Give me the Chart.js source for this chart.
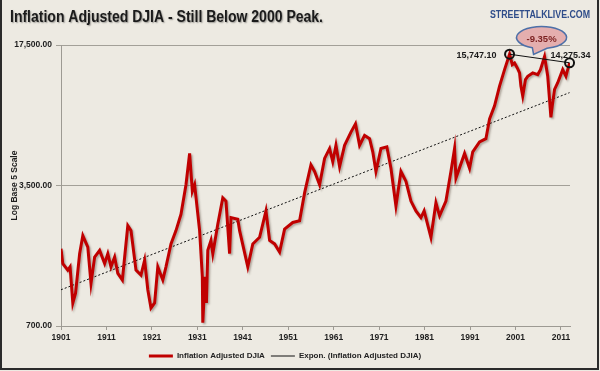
<!DOCTYPE html>
<html>
<head>
<meta charset="utf-8">
<script src="https://cdn.jsdelivr.net/npm/chart.js@4/dist/chart.umd.min.js"></script>
<style>
  html, body { margin: 0; padding: 0; background: #edeae2; }
  #wrap { width: 600px; height: 371px; }
</style>
</head>
<body>
<div id="wrap"><canvas id="chart" width="600" height="371"></canvas></div>
<script>
// inflation adjusted DJIA (year, value)
const years = [
  1901.0, 1901.4, 1902.5, 1903.0, 1903.6, 1904.2, 1905.1, 1905.8, 1906.9, 1907.6,
  1908.4, 1909.5, 1910.6, 1911.3, 1912.0, 1912.8, 1913.5, 1914.5, 1915.7, 1916.4,
  1917.5, 1918.6, 1919.4, 1920.1, 1920.8, 1921.6, 1922.3, 1923.4, 1924.1, 1925.2,
  1926.3, 1927.4, 1928.5, 1929.3, 1929.9, 1930.4, 1931.5, 1932.1, 1932.2, 1932.7,
  1933.0, 1933.3, 1934.0, 1934.4, 1935.5, 1936.6, 1937.3, 1938.1, 1938.4, 1939.9,
  1940.3, 1942.1, 1943.2, 1944.7, 1946.1, 1946.9, 1948.0, 1949.1, 1950.2, 1952.0,
  1953.5, 1954.6, 1956.0, 1956.8, 1957.9, 1959.0, 1960.1, 1960.8, 1961.5, 1962.3,
  1963.4, 1964.8, 1965.8, 1966.7, 1967.8, 1968.9, 1969.6, 1970.3, 1971.4, 1972.7,
  1973.6, 1974.7, 1975.8, 1976.9, 1978.0, 1979.1, 1980.2, 1980.9, 1982.4, 1983.5,
  1984.3, 1985.7, 1986.8, 1987.6, 1987.9, 1989.8, 1990.9, 1991.6, 1993.1, 1994.5,
  1995.3, 1996.4, 1997.5, 1998.6, 1999.7, 2000.3, 2000.8, 2001.4, 2001.9, 2002.2,
  2002.6, 2003.2, 2003.7, 2004.8, 2005.9, 2006.5, 2007.4, 2008.1, 2008.8, 2009.1,
  2009.6, 2010.3, 2011.4, 2012.1, 2012.9
];
const djia = [
  1695, 1431, 1328, 1378, 911, 1020, 1602, 1972, 1728, 1141,
  1543, 1665, 1431, 1602, 1378, 1543, 1278, 1186, 2208, 2087,
  1328, 1255, 1487, 1060, 861, 911, 1378, 1186, 1378, 1793,
  2087, 2517, 3532, 5052, 3278, 3532, 2087, 1231, 727, 1231,
  911, 1665, 1864, 1602, 2248, 3039, 2928, 1602, 2425, 2379,
  2087, 1378, 1793, 1934, 2615, 1864, 1793, 1633, 2125, 2291,
  2336, 3216, 4427, 4109, 3532, 4775, 5345, 4600, 5548, 4347,
  5548, 6455, 7090, 5548, 6212, 5985, 5150, 4109, 5345, 5450,
  4264, 2767, 4109, 3670, 2928, 2615, 2425, 2615, 1934, 2872,
  2472, 2928, 4109, 5345, 3809, 5052, 4264, 5150, 5765, 5985,
  7501, 8717, 10927, 13195, 15747.10, 13960, 14232, 13450, 12710, 10927,
  9757, 11782, 12230, 12710, 12468, 13195, 15330, 12230, 7646, 8717,
  10528, 11356, 13195, 12230, 14275.34
];

// exponential trend (straight on the log axis), end points
const trendYears = [1901, 2012.9];
const trendValues = [1060, 10140];

const yTicks = [700, 3500, 17500];
const xTicks = [1901, 1911, 1921, 1931, 1941, 1951, 1961, 1971, 1981, 1991, 2001, 2011];

const peakIdx = djia.indexOf(15747.10);   // 2000 peak
const lastIdx = djia.length - 1;
const dropLabel = '-9.35%';

const FONT = '"Liberation Sans", Arial, sans-serif';
const fmt = v => v.toLocaleString('en-US', { minimumFractionDigits: 2, maximumFractionDigits: 2 });

// draw text squeezed to a given width
function fitText(ctx, text, x, y, width) {
  const w = ctx.measureText(text).width;
  ctx.save();
  ctx.translate(x, y);
  ctx.scale(width / w, 1);
  ctx.fillText(text, 0, 0);
  ctx.restore();
}

const decor = {
  id: 'decor',
  beforeDraw(chart) {
    const ctx = chart.ctx;
    ctx.save();
    ctx.fillStyle = '#edeae2';
    ctx.fillRect(0, 0, chart.width, chart.height);
    ctx.restore();
  },
  beforeDatasetDraw(chart, args) {
    if (args.index !== 0) return;
    const ctx = chart.ctx;
    ctx.save();
    ctx.shadowColor = 'rgba(60,40,30,0.35)';
    ctx.shadowBlur = 2;
    ctx.shadowOffsetX = 1.5;
    ctx.shadowOffsetY = 1.5;
  },
  afterDatasetDraw(chart, args) {
    if (args.index === 0) chart.ctx.restore();
  },
  afterDatasetsDraw(chart) {
    const ctx = chart.ctx;
    const x = chart.scales.x, y = chart.scales.y;
    const px1 = x.getPixelForValue(years[peakIdx]), py1 = y.getPixelForValue(djia[peakIdx]);
    const px2 = x.getPixelForValue(years[lastIdx]), py2 = y.getPixelForValue(djia[lastIdx]);
    ctx.save();
    // connector
    ctx.strokeStyle = '#111';
    ctx.lineWidth = 1;
    ctx.beginPath();
    ctx.moveTo(px1, py1);
    ctx.lineTo(px2, py2);
    ctx.stroke();
    // circles
    ctx.lineWidth = 2;
    [[px1, py1], [px2, py2]].forEach(p => {
      ctx.beginPath();
      ctx.arc(p[0], p[1], 4.5, 0, Math.PI * 2);
      ctx.stroke();
    });
    // value labels
    ctx.fillStyle = '#1a1a1a';
    ctx.font = 'bold 9px ' + FONT;
    ctx.textBaseline = 'middle';
    ctx.textAlign = 'right';
    ctx.fillText(fmt(djia[peakIdx]), px1 - 13, py1 + 1);
    ctx.textAlign = 'left';
    ctx.fillText(fmt(djia[lastIdx]), px2 - 19, py2 - 7);
    // speech bubble
    const cx = (px1 + px2) / 2 + 2, cy = (py1 + py2) / 2 - 21;
    ctx.fillStyle = '#e4aeae';
    ctx.strokeStyle = '#4d70a8';
    ctx.lineWidth = 1.5;
    ctx.beginPath();
    ctx.ellipse(cx, cy, 25, 11, 0, Math.PI * 0.62, Math.PI * 0.43 + Math.PI * 2, false);
    ctx.lineTo(cx - 8, cy + 17);
    ctx.closePath();
    ctx.fill();
    ctx.stroke();
    ctx.fillStyle = '#7a1f1f';
    ctx.font = 'bold 9.5px ' + FONT;
    ctx.textAlign = 'center';
    ctx.fillText(dropLabel, cx, cy + 1.5);
    ctx.restore();
  },
  afterDraw(chart) {
    const ctx = chart.ctx;
    ctx.save();
    // title
    ctx.font = 'bold 16px ' + FONT;
    ctx.textBaseline = 'alphabetic';
    ctx.textAlign = 'left';
    ctx.shadowColor = 'rgba(0,0,0,0.35)';
    ctx.shadowBlur = 1.5;
    ctx.shadowOffsetX = 1;
    ctx.shadowOffsetY = 1;
    ctx.fillStyle = '#1b1b1b';
    fitText(ctx, 'Inflation Adjusted DJIA - Still Below 2000 Peak.', 10, 21.5, 313);
    ctx.shadowColor = 'transparent';
    ctx.font = 'bold 11px ' + FONT;
    ctx.fillStyle = '#2f4d8a';
    fitText(ctx, 'STREETTALKLIVE.COM', 490, 17.5, 100);
    // frame
    ctx.strokeStyle = '#2b2b2b';
    ctx.lineWidth = 2;
    ctx.beginPath();
    ctx.moveTo(1, 0);
    ctx.lineTo(1, chart.height - 2);
    ctx.lineTo(chart.width - 2, chart.height - 2);
    ctx.lineTo(chart.width - 2, 0);
    ctx.stroke();
    ctx.restore();
  }
};

new Chart(document.getElementById('chart'), {
  type: 'line',
  data: {
    datasets: [
      {
        label: 'Inflation Adjusted DJIA',
        data: years.map((yr, i) => ({ x: yr, y: djia[i] })),
        borderColor: '#c00000',
        backgroundColor: '#c00000',
        borderWidth: 3,
        pointRadius: 0,
        tension: 0
      },
      {
        label: 'Expon. (Inflation Adjusted DJIA)',
        data: trendYears.map((yr, i) => ({ x: yr, y: trendValues[i] })),
        borderColor: '#111',
        backgroundColor: '#111',
        borderWidth: 1,
        borderDash: [2, 2],
        pointRadius: 0
      }
    ]
  },
  options: {
    responsive: false,
    animation: false,
    layout: { padding: { top: 45, right: 30, bottom: 1, left: 0 } },
    plugins: {
      title: { display: false },
      tooltip: { enabled: false },
      legend: {
        position: 'bottom',
        labels: {
          usePointStyle: true,
          pointStyle: 'line',
          pointStyleWidth: 24,
          boxHeight: 8,
          padding: 6,
          color: '#222',
          font: { family: FONT, size: 8, weight: 'bold' }
        }
      }
    },
    scales: {
      x: {
        type: 'linear',
        min: 1901,
        max: 2013,
        afterBuildTicks: s => { s.ticks = xTicks.map(v => ({ value: v })); },
        afterFit: s => { s.height = 20; },
        grid: { drawOnChartArea: false, drawTicks: true, tickLength: 4, color: '#9d9a93' },
        border: { color: '#9d9a93' },
        ticks: {
          padding: 3,
          maxRotation: 0,
          color: '#1e1e1e',
          font: { family: FONT, size: 8.5, weight: 'bold' },
          callback: v => String(v)
        }
      },
      y: {
        type: 'logarithmic',
        min: 700,
        max: 17500,
        afterBuildTicks: s => { s.ticks = yTicks.map(v => ({ value: v })); },
        afterFit: s => { s.width = 61; },
        grid: { color: '#a3a098', tickLength: 5 },
        border: { color: '#9d9a93' },
        title: {
          display: true,
          text: 'Log Base 5 Scale',
          color: '#1e1e1e',
          padding: { top: 10, bottom: 0 },
          font: { family: FONT, size: 8.5, weight: 'bold' }
        },
        ticks: {
          padding: 4,
          color: '#1e1e1e',
          font: { family: FONT, size: 8.5, weight: 'bold' },
          callback: v => fmt(v)
        }
      }
    }
  },
  plugins: [decor]
});
</script>
</body>
</html>
